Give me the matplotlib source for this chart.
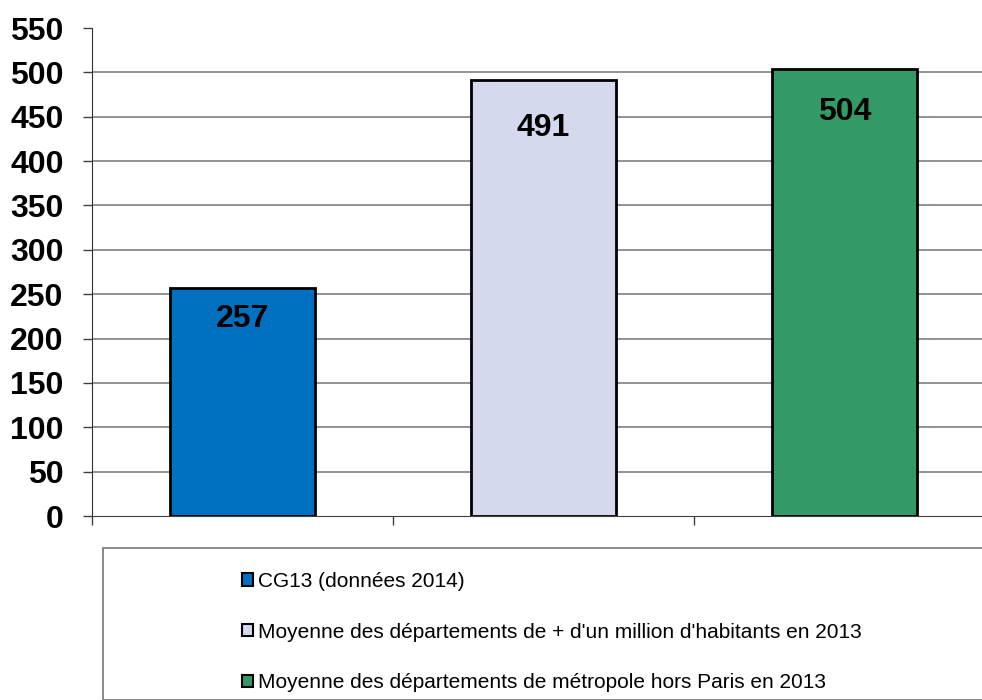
import matplotlib.pyplot as plt
from matplotlib.patches import Patch, Rectangle

# valeurs
labels = ['CG13 (données 2014)',
          "Moyenne des départements de + d'un million d'habitants en 2013",
          'Moyenne des départements de métropole hors Paris en 2013']
values = [257, 491, 504]
colors = ['#0070C0', '#D4D9EE', '#339966']
yticks = list(range(0, 551, 50))

plt.rcParams['font.family'] = 'Liberation Sans'

W, H = 982, 700
fig = plt.figure(figsize=(W / 100, H / 100), dpi=100)

# plot area in pixels, converted to figure fractions
ax = fig.add_axes([92 / W, (H - 516) / H, 903 / W, 488 / H])

x = range(len(values))
bars = ax.bar(x, values, width=0.48, color=colors, edgecolor='black', linewidth=2, zorder=3)

ax.set_xlim(-0.5, 2.5)
ax.set_ylim(0, 550)
ax.set_yticks(yticks)
ax.set_xticks([-0.5, 0.5, 1.5, 2.5])
ax.set_xticklabels([])
ax.tick_params(axis='y', direction='out', length=6.5, width=1, color='#404040', pad=14,
               labelsize=23)
ax.tick_params(axis='x', direction='out', length=6.5, width=1, color='#404040')
for lab in ax.get_yticklabels():
    lab.set_fontweight('bold')

ax.yaxis.grid(True, color='#808080', linewidth=1.2, zorder=0)
ax.get_ygridlines()[-1].set_visible(False)
ax.get_ygridlines()[0].set_visible(False)
ax.spines['top'].set_visible(False)
ax.spines['right'].set_visible(False)
ax.spines['left'].set_color('#303030')
ax.spines['bottom'].set_color('#404040')

# value labels inside the bar tops
offsets = [22, 34, 31]
for b, v, off in zip(bars, values, offsets):
    ax.annotate(str(v), (b.get_x() + b.get_width() / 2, v), xytext=(0, -off),
                textcoords='offset points', ha='center', va='center',
                fontsize=23, fontweight='bold', zorder=4)

# legend frame
fig.patches.append(Rectangle((103 / W, 0), 900 / W, (H - 548) / H, transform=fig.transFigure,
                             fill=False, edgecolor='#808080', linewidth=1.3))

handles = [Patch(facecolor=c, edgecolor='black', linewidth=1.5) for c in colors]
fig.legend(handles, labels, loc='upper left', bbox_to_anchor=(242 / W, (H - 572) / H),
           frameon=False, fontsize=15, handlelength=0.53, handleheight=0.53,
           handletextpad=0.25, labelspacing=1.52, borderpad=0, borderaxespad=0)

fig.savefig('out.png', dpi=100)
